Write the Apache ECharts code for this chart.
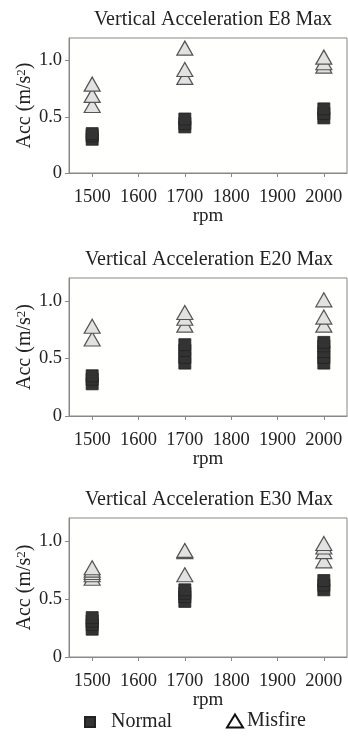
<!DOCTYPE html>
<html>
<head>
<meta charset="utf-8">
<script src="https://cdn.jsdelivr.net/npm/echarts@6/dist/echarts.min.js"></script>
<style>
html,body{margin:0;padding:0;background:#fff;}
#c{width:348px;height:745px;}
</style>
</head>
<body>
<div id="c"></div>
<script>
// ---- data ----
const panelTitles = ['Vertical Acceleration E8 Max', 'Vertical Acceleration E20 Max', 'Vertical Acceleration E30 Max'];
const rpmValues = [1500, 1700, 2000];
const xTickValues = [1500, 1600, 1700, 1800, 1900, 2000];
const yTickValues = [0, 0.5, 1.0];

// values per rpm (1500, 1700, 2000)
const e8Normal  = [[0.30, 0.33, 0.35], [0.41, 0.44, 0.48], [0.49, 0.53, 0.57]];
const e8Misfire = [[0.60, 0.69, 0.79], [0.85, 0.92, 1.11], [0.95, 0.98, 1.03]];
const e20Normal  = [[0.28, 0.32, 0.35], [0.46, 0.51, 0.57, 0.62], [0.46, 0.51, 0.56, 0.61, 0.64]];
const e20Misfire = [[0.67, 0.78], [0.79, 0.85, 0.90], [0.79, 0.86, 1.01]];
const e30Normal  = [[0.24, 0.28, 0.31, 0.34], [0.48, 0.52, 0.55, 0.58], [0.58, 0.62, 0.66]];
const e30Misfire = [[0.68, 0.71, 0.73, 0.75, 0.77], [0.71, 0.91, 0.92], [0.83, 0.91, 0.95, 0.98]];

const normalSets = [e8Normal, e20Normal, e30Normal];
const misfireSets = [e8Misfire, e20Misfire, e30Misfire];

function toPoints(groups) {
  const pts = [];
  groups.forEach((vals, i) => vals.forEach(v => pts.push([rpmValues[i], v])));
  return pts;
}

// ---- layout ----
const FONT = '"Liberation Serif", "Times New Roman", serif';
const TXT = '#222';
const grids = [
  {left: 69, right: 1, top: 38, height: 135},
  {left: 69, right: 1, top: 278, height: 138},
  {left: 69, right: 1, top: 518, height: 139}
];
const titleTops = [10, 250, 490];
const titleLefts = [213, 209, 209];

const option = {
  animation: false,
  backgroundColor: '#fff',
  title: panelTitles.map((t, i) => ({
    text: t, left: titleLefts[i], top: titleTops[i], textAlign: 'center', padding: 0,
    textStyle: {fontFamily: FONT, fontSize: 20, fontWeight: 'normal', color: TXT}
  })),
  legend: [
    {
      data: ['Normal'], left: 84, top: 712, itemWidth: 10, itemHeight: 10, padding: 0,
      textStyle: {fontFamily: FONT, fontSize: 20, color: TXT, padding: [0, 0, 0, 11]}
    },
    {
      data: [{name: 'Misfire', icon: 'triangle', itemStyle: {color: '#fff', borderColor: '#111', borderWidth: 2}}],
      left: 226, top: 711, itemWidth: 16, itemHeight: 13, padding: 0,
      textStyle: {fontFamily: FONT, fontSize: 20, color: TXT, padding: [0, 0, 0, -1]}
    }
  ],
  grid: grids.map(g => Object.assign({show: true, borderColor: '#888', borderWidth: 1, backgroundColor: '#fffffd'}, g)),
  xAxis: grids.map((g, i) => ({
    type: 'value', gridIndex: i, min: 1450, max: 2050,
    name: 'rpm', nameLocation: 'middle', nameGap: 34, nameMoveOverlap: false,
    nameTextStyle: {fontFamily: FONT, fontSize: 19, color: TXT},
    axisLine: {show: true, lineStyle: {color: '#888'}},
    axisTick: {show: true, length: 4, lineStyle: {color: '#888'}, customValues: xTickValues},
    axisLabel: {fontFamily: FONT, fontSize: 18.5, color: TXT, margin: 15, customValues: xTickValues,
      formatter: v => String(v)},
    splitLine: {show: false}
  })),
  yAxis: grids.map((g, i) => ({
    type: 'value', gridIndex: i, min: 0, max: 1.2,
    name: 'Acc (m/s{sup|2})', nameLocation: 'middle', nameGap: 34, nameRotate: 90, nameMoveOverlap: false,
    nameTextStyle: {fontFamily: FONT, fontSize: 20, color: TXT, rich: {sup: {fontFamily: FONT, fontSize: 13, color: TXT, verticalAlign: 'top', lineHeight: 20}}},
    axisLine: {show: true, lineStyle: {color: '#888'}},
    axisTick: {show: true, length: 4, lineStyle: {color: '#888'}, customValues: yTickValues},
    axisLabel: {fontFamily: FONT, fontSize: 18.5, color: TXT, margin: 7, customValues: yTickValues,
      formatter: v => v === 0 ? '0' : v.toFixed(1)},
    splitLine: {show: false}
  })),
  series: []
};

for (let i = 0; i < 3; i++) {
  option.series.push({
    name: 'Misfire', type: 'scatter', xAxisIndex: i, yAxisIndex: i,
    symbol: 'triangle', symbolSize: [16, 14],
    itemStyle: {color: '#e2e2e2', borderColor: '#555', borderWidth: 1.2, opacity: 1},
    data: toPoints(misfireSets[i])
  });
  option.series.push({
    name: 'Normal', type: 'scatter', xAxisIndex: i, yAxisIndex: i,
    symbol: 'rect', symbolSize: 12,
    itemStyle: {color: '#333', borderColor: '#222', borderWidth: 0.8, opacity: 1},
    data: toPoints(normalSets[i])
  });
}

const chart = echarts.init(document.getElementById('c'), null, {renderer: 'canvas'});
chart.setOption(option);
</script>
</body>
</html>
